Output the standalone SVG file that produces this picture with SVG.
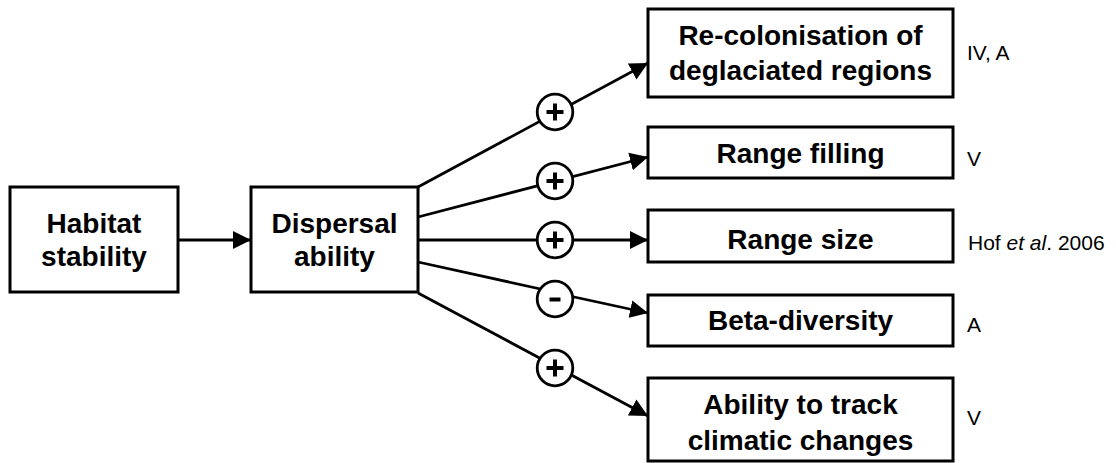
<svg xmlns="http://www.w3.org/2000/svg" width="1116" height="463" viewBox="0 0 1116 463">
<style>
.box{fill:#fff;stroke:#000;stroke-width:3}
.t{font-family:"Liberation Sans",Arial,sans-serif;font-weight:bold;font-size:28px;text-anchor:middle;fill:#000}
.s{font-family:"Liberation Sans",Arial,sans-serif;font-size:21px;fill:#000}
.ln{stroke:#000;stroke-width:2.8;fill:none}
.sg{fill:#fff;stroke:#000;stroke-width:2.8}
.op{stroke:#000;stroke-width:4;fill:none}
</style>
<defs>
<marker id="ah" markerUnits="userSpaceOnUse" markerWidth="19" markerHeight="19" refX="18" refY="9" orient="auto" viewBox="0 0 19 18">
<path d="M0,0 L18,9 L0,18 z" fill="#000"/>
</marker>
</defs>
<rect width="1116" height="463" fill="#fff"/>
<g id="connectors">
<line class="ln" x1="178" y1="240" x2="251" y2="240" marker-end="url(#ah)"/>
<line class="ln" x1="418" y1="187" x2="648" y2="63" marker-end="url(#ah)"/>
<line class="ln" x1="418" y1="217" x2="648" y2="157" marker-end="url(#ah)"/>
<line class="ln" x1="418" y1="240" x2="648" y2="240" marker-end="url(#ah)"/>
<line class="ln" x1="418" y1="262" x2="545" y2="290"/>
<line class="ln" x1="565" y1="295" x2="648" y2="313" marker-end="url(#ah)"/>
<line class="ln" x1="418" y1="293" x2="648" y2="416" marker-end="url(#ah)"/>
<g id="sign1"><circle class="sg" cx="555" cy="112" r="17.8"/><path class="op" d="M546.5,112 H563.5 M555,103.5 V120.5"/></g>
<g id="sign2"><circle class="sg" cx="555" cy="181" r="17.8"/><path class="op" d="M546.5,181 H563.5 M555,172.5 V189.5"/></g>
<g id="sign3"><circle class="sg" cx="555" cy="240" r="17.8"/><path class="op" d="M546.5,240 H563.5 M555,231.5 V248.5"/></g>
<g id="sign4"><circle class="sg" cx="555" cy="299" r="17.8"/><path class="op" d="M549.5,299.5 H560.5"/></g>
<g id="sign5"><circle class="sg" cx="555" cy="368" r="17.8"/><path class="op" d="M546.5,368 H563.5 M555,359.5 V376.5"/></g>
</g>
<g id="habitat">
<rect class="box" x="10" y="187" width="168" height="105"/>
<text class="t" x="94" y="233">Habitat</text>
<text class="t" x="94" y="266">stability</text>
</g>
<g id="dispersal">
<rect class="box" x="251" y="187" width="167" height="105"/>
<text class="t" x="334.5" y="233">Dispersal</text>
<text class="t" x="334.5" y="266">ability</text>
</g>
<g id="recolonisation">
<rect class="box" x="648" y="9" width="305" height="88"/>
<text class="t" x="800.5" y="45">Re-colonisation of</text>
<text class="t" x="800.5" y="80">deglaciated regions</text>
<text class="s" x="967" y="60">IV, A</text>
</g>
<g id="rangefilling">
<rect class="box" x="648" y="127" width="305" height="51"/>
<text class="t" x="800.5" y="163">Range filling</text>
<text class="s" x="967" y="166">V</text>
</g>
<g id="rangesize">
<rect class="box" x="648" y="210" width="305" height="52"/>
<text class="t" x="800.5" y="249">Range size</text>
<text class="s" x="968" y="250">Hof <tspan font-style="italic">et al</tspan>. 2006</text>
</g>
<g id="betadiversity">
<rect class="box" x="648" y="295" width="305" height="51"/>
<text class="t" x="800.5" y="330">Beta-diversity</text>
<text class="s" x="967" y="332">A</text>
</g>
<g id="tracking">
<rect class="box" x="648" y="378" width="305" height="83"/>
<text class="t" x="800.5" y="414">Ability to track</text>
<text class="t" x="800.5" y="450">climatic changes</text>
<text class="s" x="967" y="425">V</text>
</g>
</svg>
